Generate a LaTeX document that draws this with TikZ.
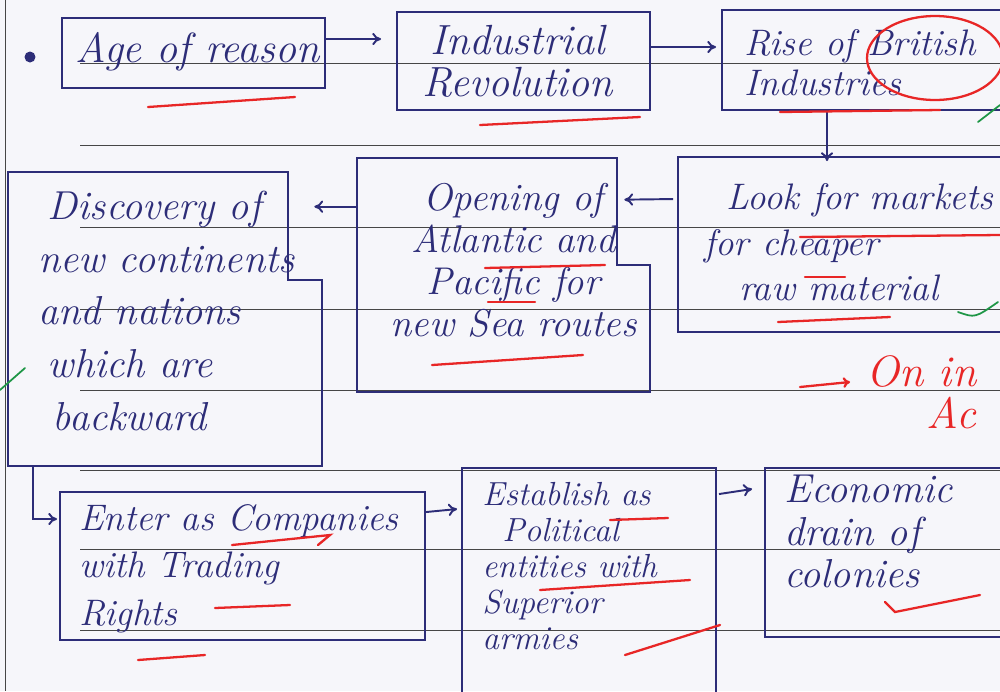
\documentclass[tikz,border=0pt]{standalone}
\usepackage[dvipsnames]{xcolor}
\usepackage{tikz}
\usetikzlibrary{calc,fit,arrows.meta}

\definecolor{ink}{RGB}{45,45,120}
\definecolor{redpen}{RGB}{232,38,38}
\definecolor{greenpen}{RGB}{30,150,70}
\definecolor{rulegray}{RGB}{70,70,70}
\definecolor{paper}{RGB}{246,246,250}

\begin{document}
\begin{tikzpicture}[x=0.02cm,y=-0.02cm,
    box/.style={draw=ink,line width=1.1pt,inner sep=0pt},
    frame/.style={inner sep=0pt},
    txt/.style={inner sep=0pt,text=ink,anchor=north west,align=left},
    flow/.style={draw=ink,line width=1.1pt,-{To[length=5pt,width=7pt]}},
    outline/.style={draw=ink,line width=1.1pt},
    redline/.style={draw=redpen,line width=1.3pt,line cap=round},
    greenline/.style={draw=greenpen,line width=1pt,line cap=round},
    ruled/.style={draw=rulegray,line width=0.45pt}]

    \clip (0,0) rectangle (1000,691);
    \fill[paper] (0,0) rectangle (1000,691);

    % notebook page
    \foreach \ly in {63,145,227,309,390,470,549,630}
        \draw[ruled] (80,\ly) -- (1000,\ly);
    \draw[ruled] (5,0) -- (5,691);
    \fill[ink] (30,57) circle (0.11cm);

    % boxes
    \node[box,fit={(62,18) (325,88)}] (reason) {};
    \node[box,fit={(397,12) (650,110)}] (industry) {};
    \node[box,fit={(722,10) (1040,110)}] (british) {};
    \node[box,fit={(678,157) (1040,332)}] (markets) {};
    \node[frame,fit={(357,158) (650,392)}] (ocean) {};
    \node[frame,fit={(8,172) (322,466)}] (disc) {};
    \node[box,fit={(60,492) (425,640)}] (trade) {};
    \node[box,fit={(462,468) (716,700)}] (polity) {};
    \node[box,fit={(765,468) (1040,637)}] (drain) {};

    \draw[outline] (ocean.north west) -- ($(ocean.north east)+(-33,0)$)
        -- ($(ocean.north east)+(-33,107)$) -- ($(ocean.north east)+(0,107)$)
        -- (ocean.south east) -- (ocean.south west) -- cycle;
    \draw[outline] (disc.north west) -- ($(disc.north east)+(-34,0)$)
        -- ($(disc.north east)+(-34,108)$) -- ($(disc.north east)+(0,108)$)
        -- (disc.south east) -- (disc.south west) -- cycle;

    % texts
    \node[txt,anchor=north,font=\fontsize{24}{26}\selectfont\itshape]
        (reasontext) at ($(reason.north)+(4,15)$) {Age of reason};
    \node[txt,anchor=north,align=center,font=\fontsize{24}{24}\selectfont\itshape]
        (industrytext) at ($(industry.north)+(-6,14)$) {Industrial\\Revolution};
    \node[txt,font=\fontsize{21}{23}\selectfont\itshape]
        (britishtext) at ($(british.north west)+(23,20)$) {Rise of British\\Industries};
    \node[txt,font=\fontsize{21}{26}\selectfont\itshape]
        (marketstext) at ($(markets.north west)+(27,27)$)
        {\hspace*{0.45cm}Look for markets\\for cheaper\\\hspace*{0.7cm}raw material};
    \node[txt,anchor=north,align=center,font=\fontsize{22}{24}\selectfont\itshape]
        (oceantext) at ($(ocean.north)+(10,25)$) {Opening of\\Atlantic and\\Pacific for\\new Sea routes};
    \node[txt,font=\fontsize{23}{30}\selectfont\itshape]
        (disctext) at ($(disc.north west)+(30,19)$)
        {\hspace*{0.2cm}Discovery of\\new continents\\and nations\\\hspace*{0.2cm}which are\\\hspace*{0.3cm}backward};
    \node[txt,font=\fontsize{21}{27}\selectfont\itshape]
        (tradetext) at ($(trade.north west)+(20,13)$) {Enter as Companies\\with Trading\\Rights};
    \node[txt,font=\fontsize{19}{20.5}\selectfont\itshape]
        (politytext) at ($(polity.north west)+(21,15)$) {Establish as\\\hspace*{0.4cm}Political\\entities with\\Superior\\armies};
    \node[txt,font=\fontsize{23}{24}\selectfont\itshape]
        (draintext) at ($(drain.north west)+(20,8)$) {Economic\\drain of\\colonies};

    % connectors
    \draw[flow] ($(reason.north east)+(0,22)$) -- ($(industry.north west)+(-15,28)$);
    \draw[flow] ($(industry.north east)+(0,36)$) -- ($(british.north west)+(-5,38)$);
    \draw[flow] ($(british.south west)+(106,0)$) -- ($(markets.north west)+(150,5)$);
    \draw[flow] ($(markets.north west)+(-4,43)$) -- ($(ocean.north east)+(-26,42)$);
    \draw[flow] ($(ocean.north west)+(0,49)$) -- ($(disc.north east)+(-8,35)$);
    \draw[flow] ($(disc.south west)+(25,0)$) |- ($(trade.north west)+(-2,28)$);
    \draw[flow] ($(trade.north east)+(0,21)$) -- ($(polity.north west)+(-4,42)$);
    \draw[flow] ($(polity.north east)+(2,27)$) -- ($(drain.north west)+(-12,22)$);

    % teacher's marks
    \draw[redline] (148,107) -- (295,97);
    \draw[redline] (480,125) -- (640,117);
    \draw[redline] (780,112) -- (940,110);
    \draw[redline] (935,58) ellipse [x radius=1.36cm, y radius=0.84cm];
    \draw[redline] (800,237) -- (1000,235);
    \draw[redline] (805,277) -- (845,277);
    \draw[redline] (778,322) -- (890,317);
    \draw[redline] (485,268) -- (605,265);
    \draw[redline] (488,302) -- (535,302);
    \draw[redline] (432,365) -- (583,355);
    \draw[redline] (232,545) -- (330,535) -- (318,545);
    \draw[redline] (215,608) -- (290,605);
    \draw[redline] (138,660) -- (205,655);
    \draw[redline] (610,520) -- (668,518);
    \draw[redline] (540,590) -- (690,580);
    \draw[redline] (625,655) -- (720,625);
    \draw[redline] (885,602) -- (895,612) -- (980,595);
    \draw[redline,-{To[length=4pt,width=6pt]}] (800,387) -- (850,382);
    \node[anchor=base west,inner sep=0pt,text=redpen,font=\fontsize{25}{27}\selectfont\itshape]
        (note) at (866,386) {On in};
    \node[anchor=base west,inner sep=0pt,text=redpen,font=\fontsize{25}{27}\selectfont\itshape]
        (notetwo) at (926,428) {Ac};
    \draw[greenline] (978,122) -- (1000,105);
    \draw[greenline] (958,312) .. controls (975,318) .. (998,302);
    \draw[greenline] (0,390) -- (25,368);
\end{tikzpicture}
\end{document}
